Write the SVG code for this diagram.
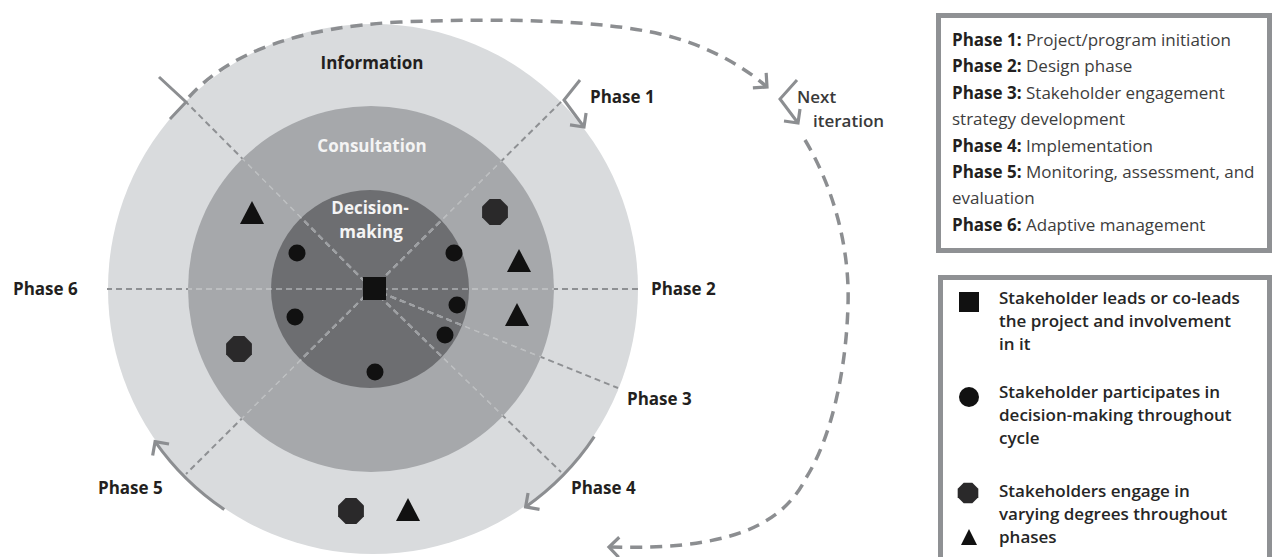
<svg xmlns="http://www.w3.org/2000/svg" width="1273" height="557" viewBox="0 0 1273 557">
<style>
 .lbl{font-family:"Open Sans","Noto Sans",sans-serif;font-weight:700;font-size:17px;fill:#231f20}
 .wl{font-family:"Open Sans","Noto Sans",sans-serif;font-weight:700;font-size:17px;fill:#f4f4f4;text-anchor:middle}
 .nx{font-family:"Open Sans","Noto Sans",sans-serif;font-weight:600;font-size:17px;fill:#3a3a3a}
 .leg{font-family:"Open Sans","Noto Sans",sans-serif;font-size:17px;fill:#3d3d3d}
 .b{font-weight:700;fill:#231f20}
 .leg2{font-family:"Open Sans","Noto Sans",sans-serif;font-weight:600;font-size:17px;fill:#262626}
 .rad{fill:none;stroke-width:2;stroke-dasharray:6 4}
 .darc{fill:none;stroke:#8c8e91;stroke-width:3.5;stroke-dasharray:12 8}
 .sol{fill:none;stroke:#8c8e91;stroke-width:3;stroke-linejoin:miter}
 .box{fill:#ffffff;stroke:#8f9194;stroke-width:5}
 .sym{fill:#111111}
 .oct{fill:#2a292a}
</style>
<defs>
 <marker id="ah" markerUnits="userSpaceOnUse" markerWidth="30" markerHeight="30" viewBox="-15 -15 30 30" refX="0" refY="0" orient="auto" overflow="visible">
  <path d="M-10,-10 L0,0 L-10,10" fill="none" stroke="#8c8e91" stroke-width="3.2" stroke-dasharray="none"/>
 </marker>
 <clipPath id="cm"><circle cx="371" cy="289" r="183"/></clipPath>
 <clipPath id="ci"><circle cx="370" cy="289" r="99"/></clipPath>
 <g id="rl">
  <line x1="372" y1="289" x2="107" y2="289"/>
  <line x1="372" y1="289" x2="640" y2="289"/>
  <line x1="372" y1="289" x2="186" y2="102"/>
  <line x1="372" y1="289" x2="561" y2="472"/>
  <line x1="372" y1="289" x2="562" y2="101"/>
  <line x1="372" y1="289" x2="186" y2="474"/>
  <line x1="372" y1="289" x2="618" y2="388"/>
 </g>
 <polygon id="oct" points="12.9,5.4 5.4,12.9 -5.4,12.9 -12.9,5.4 -12.9,-5.4 -5.4,-12.9 5.4,-12.9 12.9,-5.4"/>
 <polygon id="tri" points="0,-12 12,11 -12,11"/>
</defs>

<g id="ring-information">
 <circle cx="373" cy="289" r="265" fill="#d9dbdd"/>
 <text class="lbl" x="372" y="69" text-anchor="middle">Information</text>
</g>
<g id="ring-consultation">
 <circle cx="371" cy="289" r="183" fill="#a6a8ab"/>
</g>
<g id="ring-decision">
 <circle cx="370" cy="289" r="99" fill="#6d6e71"/>
</g>

<g id="connectors">
 <use href="#rl" class="rad" stroke="#8e9093"/>
 <use href="#rl" class="rad" stroke="#bcbec0" clip-path="url(#cm)"/>
 <use href="#rl" class="rad" stroke="#9d9fa2" clip-path="url(#ci)"/>
 <path class="darc" d="M189,97 C230,52 300,27 400,22 C500,18 600,20 660,34 C700,43 740,63 767,87" marker-end="url(#ah)"/>
 <path class="darc" d="M805,140 C832,185 850,245 848,305 C846,375 830,440 806,478 C780,530 720,550 609,547" marker-end="url(#ah)"/>
 <path class="sol" d="M594.3,436.6 A266,266 0 0 1 525.6,506.9" marker-end="url(#ah)"/>
 <path class="sol" d="M224.3,509.5 A266,266 0 0 1 155.1,441.6" marker-end="url(#ah)"/>
 <path class="sol" d="M580,80 L564,100 L584,127" marker-end="url(#ah)"/>
 <path class="sol" d="M797,80 L780,99 L798,123" marker-end="url(#ah)"/>
 <path class="sol" d="M159,77 L186,102 L170,119"/>
</g>

<g id="ring-labels">
 <text class="wl" x="372" y="152">Consultation</text>
 <text class="wl" x="370" y="214">Decision-</text>
 <text class="wl" x="371" y="238">making</text>
</g>

<g id="stakeholders">
 <rect id="lead" class="sym" x="363" y="277" width="23" height="23"/>
 <g id="participants" class="sym">
  <circle cx="297" cy="253" r="8.5"/>
  <circle cx="454" cy="253" r="8.5"/>
  <circle cx="295" cy="317" r="8.5"/>
  <circle cx="457" cy="305" r="8.5"/>
  <circle cx="445" cy="335" r="8.5"/>
  <circle cx="375" cy="372" r="8.5"/>
 </g>
 <g id="engaged">
  <use href="#tri" class="sym" x="252" y="213"/>
  <use href="#oct" class="oct" x="495" y="212"/>
  <use href="#tri" class="sym" x="519" y="261"/>
  <use href="#tri" class="sym" x="517" y="315"/>
  <use href="#oct" class="oct" x="239" y="349"/>
  <use href="#oct" class="oct" x="351" y="511"/>
  <use href="#tri" class="sym" x="408" y="510"/>
 </g>
</g>

<g id="phase-labels">
 <text class="lbl" x="590" y="103">Phase 1</text>
 <text class="lbl" x="651" y="295">Phase 2</text>
 <text class="lbl" x="627" y="405">Phase 3</text>
 <text class="lbl" x="571" y="494">Phase 4</text>
 <text class="lbl" x="98" y="494">Phase 5</text>
 <text class="lbl" x="13" y="295">Phase 6</text>
 <text class="nx" x="797" y="103">Next</text>
 <text class="nx" x="813" y="127">iteration</text>
</g>

<g id="legend-phases">
 <rect class="box" x="938.5" y="15.5" width="331" height="235"/>
 <text class="leg" x="952" y="46"><tspan class="b">Phase 1:</tspan> Project/program initiation</text>
 <text class="leg" x="952" y="72"><tspan class="b">Phase 2:</tspan> Design phase</text>
 <text class="leg" x="952" y="99"><tspan class="b">Phase 3:</tspan> Stakeholder engagement</text>
 <text class="leg" x="952" y="125">strategy development</text>
 <text class="leg" x="952" y="152"><tspan class="b">Phase 4:</tspan> Implementation</text>
 <text class="leg" x="952" y="178"><tspan class="b">Phase 5:</tspan> Monitoring, assessment, and</text>
 <text class="leg" x="952" y="204">evaluation</text>
 <text class="leg" x="952" y="231"><tspan class="b">Phase 6:</tspan> Adaptive management</text>
</g>

<g id="legend-symbols">
 <rect class="box" x="940.5" y="277.5" width="329" height="300"/>
 <rect class="sym" x="959" y="292" width="20" height="20"/>
 <circle class="sym" cx="969" cy="397" r="10"/>
 <use href="#oct" class="oct" transform="translate(968,493) scale(0.8)"/>
 <polygon class="sym" points="969,529 977,545 961,545"/>
 <text class="leg2" x="999" y="304">Stakeholder leads or co-leads</text>
 <text class="leg2" x="999" y="327">the project and involvement</text>
 <text class="leg2" x="999" y="350">in it</text>
 <text class="leg2" x="999" y="398">Stakeholder participates in</text>
 <text class="leg2" x="999" y="421">decision-making throughout</text>
 <text class="leg2" x="999" y="444">cycle</text>
 <text class="leg2" x="999" y="497">Stakeholders engage in</text>
 <text class="leg2" x="999" y="520">varying degrees throughout</text>
 <text class="leg2" x="999" y="543">phases</text>
</g>
</svg>
